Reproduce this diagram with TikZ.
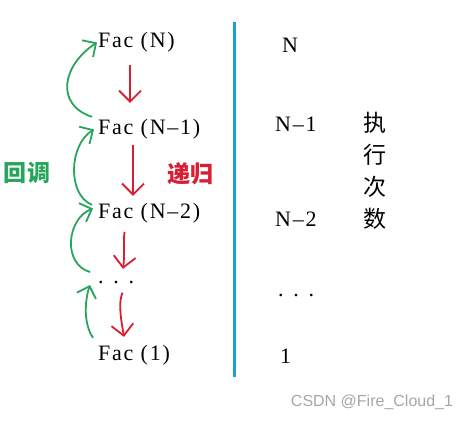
\documentclass[tikz,border=0pt]{standalone}
\usepackage{fontspec}
\setmainfont{Liberation Serif}
\newfontfamily\cjk{Noto Sans CJK SC}
\newfontfamily\facfont[LetterSpace=8]{Liberation Serif}
\newfontfamily\markfont{Liberation Sans}
\usetikzlibrary{positioning,arrows.meta}
\definecolor{backgreen}{RGB}{40,165,90}
\definecolor{recred}{RGB}{215,30,50}
\definecolor{barblue}{RGB}{25,160,215}
\tikzset{
  fac/.style={inner sep=0pt, text height=15pt, text depth=4pt,
    font=\facfont\fontsize{22}{26}\selectfont},
  recur/.style={recred, line width=1.8pt, -{Straight Barb[length=11pt,width=22pt]}},
  callback/.style={backgreen, line width=1.8pt, -{Straight Barb[length=10pt,width=20pt]}},
  hanzi/.style={inner sep=0pt, font=\cjk\fontsize{23}{32}\selectfont}
}
\begin{document}
\begin{tikzpicture}[x=1pt,y=1pt]
\useasboundingbox (0,0) rectangle (470,420);
\node[fac, anchor=west] (facN) at (98,377.5) {Fac (N)};
\node[fac, below=87pt of facN.west, anchor=west] (facNm1) {Fac (N\textendash1)};
\node[fac, below=84pt of facNm1.west, anchor=west] (facNm2) {Fac (N\textendash2)};
\node[fac, below=65pt of facNm2.west, anchor=west] (facdots) {. . .};
\node[fac, below=76pt of facdots.west, anchor=west] (facone) {Fac (1)};

\node[fac, anchor=west] (cntN) at (282,372.5) {N};
\node[fac, anchor=west] (cntNm1) at (275,293.5) {N\textendash1};
\node[fac, anchor=west] (cntNm2) at (275,198.5) {N\textendash2};
\node[fac, anchor=west] (cntdots) at (278,129.5) {. . .};
\node[fac, anchor=west] (cntone) at (280,62.5) {1};

\draw[barblue, line width=3pt] (234,398) -- (234,43);

\node[hanzi, align=center] (countlabel) at (375,249.5) {执\\行\\次\\数};
\node[hanzi, text=backgreen, font=\cjk\bfseries\fontsize{23}{32}\selectfont] (backlabel) at (27,247) {回调};
\node[hanzi, text=recred, font=\cjk\bfseries\fontsize{23}{32}\selectfont] (reclabel) at (190,246) {递归};

\draw[recur, shorten <=13pt, shorten >=17pt] ([xshift=32pt]facN.south west) -- ([xshift=32pt]facNm1.north west);
\draw[recur, shorten <=6pt, shorten >=8pt] ([xshift=35pt]facNm1.south west) -- ([xshift=35pt]facNm2.north west);
\draw[recur, shorten <=9pt] ([xshift=29pt]facNm2.south west) .. controls +(-4,-15) and +(2,15) .. ([xshift=25pt]facdots.north west);
\draw[recur, shorten <=5pt, shorten >=8pt] ([xshift=27pt]facdots.south west) .. controls +(-8,-15) and +(-2,15) .. ([xshift=27pt]facone.north west);

\draw[callback] ([xshift=-6pt,yshift=3pt]facNm1.north west) .. controls +(-37,12) and +(-35,-23) .. ([xshift=-1pt]facN.west);
\draw[callback] ([xshift=-6pt,yshift=-1pt]facNm2.north west) .. controls +(-25,10) and +(-25,-15) .. ([xshift=-4pt]facNm1.west);
\draw[callback] ([xshift=-8pt,yshift=6.5pt]facdots.west) .. controls +(-28,8) and +(-26,-10) .. ([xshift=-5pt,yshift=5pt]facNm2.west);
\draw[callback] ([xshift=-5pt,yshift=7pt]facone.north west) .. controls +(-10,15) and +(-5,-15) .. ([xshift=-8pt,yshift=-6.5pt]facdots.west);

\node[text=gray!70, font=\markfont\fontsize{16}{18}\selectfont] (mark) at (372,18) {CSDN @Fire\_Cloud\_1};
\end{tikzpicture}
\end{document}
